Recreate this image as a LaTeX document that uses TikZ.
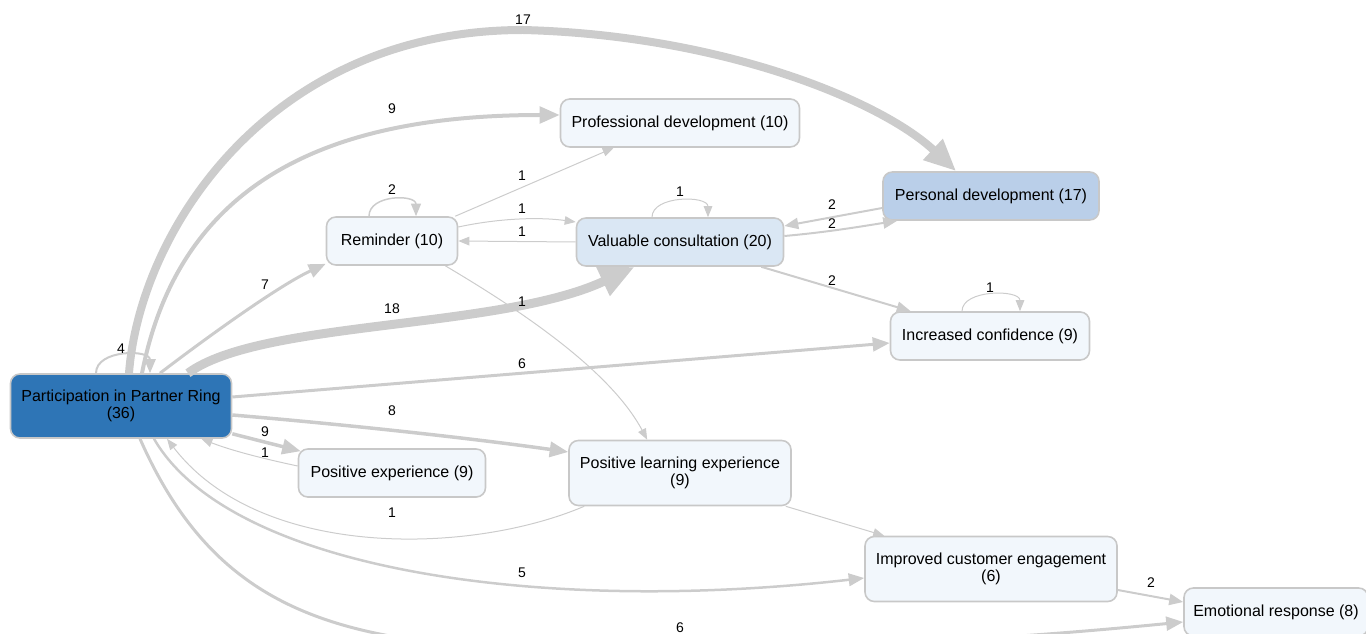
\documentclass[tikz,border=0pt]{standalone}
\usepackage{fontspec}
\setmainfont{Liberation Sans}
\usetikzlibrary{arrows.meta,calc}
\definecolor{edgegray}{HTML}{CCCCCC}
\definecolor{boxgray}{HTML}{C8C8C8}
\definecolor{ringblue}{HTML}{2E75B6}
\definecolor{persblue}{HTML}{BACFE9}
\definecolor{valblue}{HTML}{DAE7F4}
\definecolor{paleblue}{HTML}{F2F7FC}

\begin{document}
\begin{tikzpicture}[x=0.75pt,y=-0.75pt,
    box/.style={draw=boxgray,line width=1.2pt,rounded corners=7pt,align=center,
      font=\fontsize{12}{13}\selectfont,inner sep=0pt,minimum height=36pt,fill=paleblue},
    pen/.style={draw=edgegray,line width=#1*0.75pt,
      -{Triangle[length=6pt 3,width=4.5pt 2.6]}},
    lbl/.style={font=\fontsize{10.5}{12}\selectfont,inner sep=1pt}
  ]
  \useasboundingbox (0,0) rectangle (1366,634);
  \node[box,fill=ringblue,minimum width=165.75pt,minimum height=48pt] (part) at (121,406)
    {Participation in Partner Ring\\(36)};
  \node[box,minimum width=179.25pt] (prof) at (680,123) {Professional development (10)};
  \node[box,fill=persblue,minimum width=162pt] (pers) at (991,196) {Personal development (17)};
  \node[box,minimum width=98.25pt] (rem) at (392,241) {Reminder (10)};
  \node[box,fill=valblue,minimum width=155.25pt] (val) at (680,242) {Valuable consultation (20)};
  \node[box,minimum width=149.25pt] (conf) at (990,336) {Increased confidence (9)};
  \node[box,minimum width=140.25pt] (pos) at (392,473) {Positive experience (9)};
  \node[box,minimum width=166.5pt,minimum height=48.75pt] (ple) at (680,473)
    {Positive learning experience\\(9)};
  \node[box,minimum width=189pt,minimum height=48.75pt] (ice) at (991,569)
    {Improved customer engagement\\(6)};
  \node[box,minimum width=138pt] (emo) at (1276,612) {Emotional response (8)};
  % out of Participation in Partner Ring
  \draw[pen=8] ($(part.north)+(8,0)$) .. controls (140,230) and (270,30) .. (523,30)
    .. controls (720,35) and (880,100) .. ($(pers.north west)+(74,0)$)
    node[lbl] at (523,20) {17};
  \draw[pen=4] ($(part.north)+(21,0)$) .. controls (180,180) and (330,115) .. ($(prof.west)+(0,-8)$)
    node[lbl] at (392,109) {9};
  \draw[pen=3] ($(part.north)+(39,0)$) .. controls (210,335) and (280,285) .. (rem.199)
    node[lbl] at (265,285) {7};
  \draw[pen=9] ($(part.north)+(67,0)$) .. controls (260,320) and (500,330) .. ($(val.south west)+(59,0)$)
    node[lbl] at (392,309) {18};
  \draw[pen=3] ($(part.east)+(0,-9)$) -- ($(conf.west)+(0,7)$) node[lbl] at (522,364) {6};
  \draw[pen=3.5] ($(part.east)+(0,9)$) .. controls (340,424) and (470,438) .. ($(ple.west)+(0,-21)$)
    node[lbl] at (392,411) {8};
  \draw[pen=3.5] ($(part.south east)+(0,-5)$) -- ($(pos.north west)+(3,3)$) node[lbl] at (265,432) {9};
  \draw[pen=2.5] ($(part.south)+(33,0)$) .. controls (230,570) and (540,615) .. ($(ice.west)+(0,9)$)
    node[lbl] at (522,573) {5};
  \draw[pen=3] ($(part.south)+(19,0)$) .. controls (220,620) and (350,650) .. (600,650)
    .. controls (900,650) and (1100,630) .. ($(emo.west)+(0,10)$) node[lbl] at (680,628) {6};
  \draw[pen=2] ($(part.north)+(-25,0)$) .. controls +(0,-24) and +(0,-24) .. ($(part.north)+(29,0)$)
    node[lbl] at (121,349) {4};
  % back into Participation in Partner Ring
  \draw[pen=1] ($(pos.west)+(0,-7)$) .. controls (260,458) and (230,450) .. ($(part.south east)+(-31,0)$)
    node[lbl] at (265,453) {1};
  \draw[pen=1] ($(ple.south west)+(16,0)$) .. controls (470,555) and (260,560) .. ($(part.south)+(46,0)$)
    node[lbl] at (392,513) {1};
  % Reminder
  \draw[pen=1.5] ($(rem.north)+(-23,0)$) .. controls +(0,-22) and +(0,-22) .. ($(rem.north)+(24,0)$)
    node[lbl] at (392,190) {2};
  \draw[pen=1] ($(rem.north east)+(-3,0)$) -- ($(prof.south west)+(54,0)$) node[lbl] at (522,176) {1};
  \draw[pen=1] ($(rem.east)+(0,-14)$) .. controls (500,218) and (540,217) .. ($(val.west)+(0,-20)$)
    node[lbl] at (522,209) {1};
  \draw[pen=1] ($(rem.south east)+(-13,0)$) .. controls (520,310) and (610,370) .. ($(ple.north west)+(79,0)$)
    node[lbl] at (522,302) {1};
  % Valuable consultation
  \draw[pen=1] (val.west) -- (rem.east) node[lbl] at (522,232) {1};
  \draw[pen=1] ($(val.north)+(-28,0)$) .. controls +(0,-22) and +(0,-22) .. ($(val.north)+(28,0)$)
    node[lbl] at (680,192) {1};
  \draw[pen=2] ($(pers.west)+(0,12)$) -- ($(val.east)+(0,-16)$) node[lbl] at (832,205) {2};
  \draw[pen=2] ($(val.east)+(0,-6)$) .. controls (830,232) and (870,225) .. ($(pers.south west)+(15,0)$)
    node[lbl] at (832,224) {2};
  \draw[pen=2] ($(val.south east)+(-23,0)$) -- ($(conf.north west)+(21,0)$) node[lbl] at (832,281) {2};
  % the rest
  \draw[pen=1] ($(conf.north)+(-28,0)$) .. controls +(0,-22) and +(0,-22) .. ($(conf.north)+(30,0)$)
    node[lbl] at (990,288) {1};
  \draw[pen=1] ($(ple.south east)+(-6,0)$) -- ($(ice.north west)+(20,0)$);
  \draw[pen=2] ($(ice.east)+(0,21)$) -- ($(emo.west)+(0,-10)$) node[lbl] at (1151,583) {2};
\end{tikzpicture}
\end{document}
